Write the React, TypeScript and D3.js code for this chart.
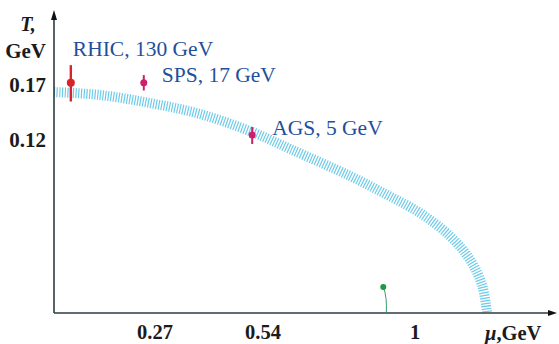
import { useMemo } from "react";
import { line, curveCatmullRom, scaleLinear } from "d3";

const WIDTH = 559;
const HEIGHT = 344;

// schematic axes: ticks are not evenly spaced in the original figure
const MU_TICKS = [0, 0.27, 0.54, 1, 1.43];
const MU_PIXELS = [54, 155, 263, 415, 557];
const T_TICKS = [0, 0.12, 0.17, 0.238];
const T_PIXELS = [313, 140, 85, 10];

const MU_TICK_LABELS = ["0.27", "0.54", "1"];
const MU_TICK_VALUES = [0.27, 0.54, 1];
const T_TICK_LABELS = ["0.17", "0.12"];
const T_TICK_VALUES = [0.17, 0.12];

// phase boundary band
const BOUNDARY_MU = [0, 0.123, 0.257, 0.383, 0.513, 0.622, 0.804, 0.91, 1.015, 1.106, 1.167, 1.203, 1.218];
const BOUNDARY_T = [0.1636, 0.1609, 0.1536, 0.1436, 0.1273, 0.1138, 0.095, 0.0826, 0.0694, 0.0534, 0.0368, 0.0194, 0.0007];

// freeze-out points
const POINT_NAMES = ["RHIC, 130 GeV", "SPS, 17 GeV", "AGS, 5 GeV"];
const POINT_MU = [0.045, 0.24, 0.513];
const POINT_T = [0.172, 0.172, 0.1245];
const POINT_ERR_UP = [0.016, 0.007, 0.0073];
const POINT_ERR_DOWN = [0.017, 0.007, 0.0073];
const POINT_COLORS = ["#d8232a", "#cf1f6b", "#cf1f6b"];

const NUCLEAR_MU = 0.904;
const NUCLEAR_T = 0.018;

const TEXT = "#1b1b1b";
const BLUE = "#1f4f9c";
const AXIS = "#2b3b42";
const SERIF = "'Liberation Serif', 'Times New Roman', serif";

export default function App() {
  const x = useMemo(() => scaleLinear().domain(MU_TICKS).range(MU_PIXELS), []);
  const y = useMemo(() => scaleLinear().domain(T_TICKS).range(T_PIXELS), []);

  const band = useMemo(
    () =>
      line<number>()
        .x((d) => x(BOUNDARY_MU[d]))
        .y((d) => y(BOUNDARY_T[d]))
        .curve(curveCatmullRom.alpha(0.5))(BOUNDARY_MU.map((_, i) => i)),
    [x, y]
  );

  const x0 = x(0);
  const y0 = y(0);
  const xEnd = x(1.43);
  const yTop = y(0.238);

  const labelPos = [
    { dx: 2, dy: -27 },
    { dx: 18, dy: -1 },
    { dx: 20, dy: 0 },
  ];

  return (
    <svg width={WIDTH} height={HEIGHT} style={{ position: "absolute", left: 0, top: 0, background: "#fff" }}>
      {/* phase boundary */}
      <path d={band ?? ""} fill="none" stroke="#6ccbe8" strokeWidth={10} strokeDasharray="1.2 1.5" />

      {/* axes */}
      <line x1={x0} x2={xEnd - 4} y1={y0} y2={y0} stroke={AXIS} strokeWidth={1.6} />
      <line x1={x0} x2={x0} y1={y0} y2={yTop + 4} stroke={AXIS} strokeWidth={1.6} />
      <path d={`M${xEnd},${y0} L${xEnd - 9},${y0 - 3} L${xEnd - 9},${y0 + 3} Z`} fill="#111" />
      <path d={`M${x0},${yTop} L${x0 - 3},${yTop + 10} L${x0 + 3},${yTop + 10} Z`} fill="#111" />

      {/* nuclear matter point */}
      <path
        d={`M${x(NUCLEAR_MU)},${y(NUCLEAR_T)} Q${x(NUCLEAR_MU) + 4},${y(NUCLEAR_T) + 10} ${x(NUCLEAR_MU) + 3},${y0}`}
        fill="none"
        stroke="#3a9a6a"
        strokeWidth={1}
      />
      <circle cx={x(NUCLEAR_MU)} cy={y(NUCLEAR_T)} r={3} fill="#1c9a44" />

      {/* freeze-out points */}
      {POINT_NAMES.map((name, i) => {
        const cx = x(POINT_MU[i]);
        const cy = y(POINT_T[i]);
        return (
          <g key={name}>
            <line
              x1={cx}
              x2={cx}
              y1={y(POINT_T[i] + POINT_ERR_UP[i])}
              y2={y(POINT_T[i] - POINT_ERR_DOWN[i])}
              stroke={POINT_COLORS[i]}
              strokeWidth={i === 0 ? 2.4 : 2}
            />
            <circle cx={cx} cy={cy} r={i === 0 ? 4 : 3.5} fill={POINT_COLORS[i]} />
            <text
              x={cx + labelPos[i].dx}
              y={cy + labelPos[i].dy}
              fill={BLUE}
              fontFamily={SERIF}
              fontSize={21.5}
            >
              {name}
            </text>
          </g>
        );
      })}

      {/* tick labels */}
      {MU_TICK_VALUES.map((v, i) => (
        <text key={v} x={x(v)} y={339} textAnchor="middle" fill={TEXT} fontFamily={SERIF} fontSize={20.5} fontWeight="bold">
          {MU_TICK_LABELS[i]}
        </text>
      ))}
      {T_TICK_VALUES.map((v, i) => (
        <text key={v} x={46} y={y(v) + 7} textAnchor="end" fill={TEXT} fontFamily={SERIF} fontSize={21} fontWeight="bold">
          {T_TICK_LABELS[i]}
        </text>
      ))}

      {/* axis titles */}
      <text x={28} y={31} textAnchor="middle" fill={TEXT} fontFamily={SERIF} fontSize={20} fontWeight="bold" fontStyle="italic">
        T,
      </text>
      <text x={46} y={58} textAnchor="end" fill={TEXT} fontFamily={SERIF} fontSize={21} fontWeight="bold">
        GeV
      </text>
      <text x={485} y={340} fill={TEXT} fontFamily={SERIF} fontSize={20.5} fontWeight="bold">
        <tspan fontStyle="italic">μ</tspan>,GeV
      </text>
    </svg>
  );
}
